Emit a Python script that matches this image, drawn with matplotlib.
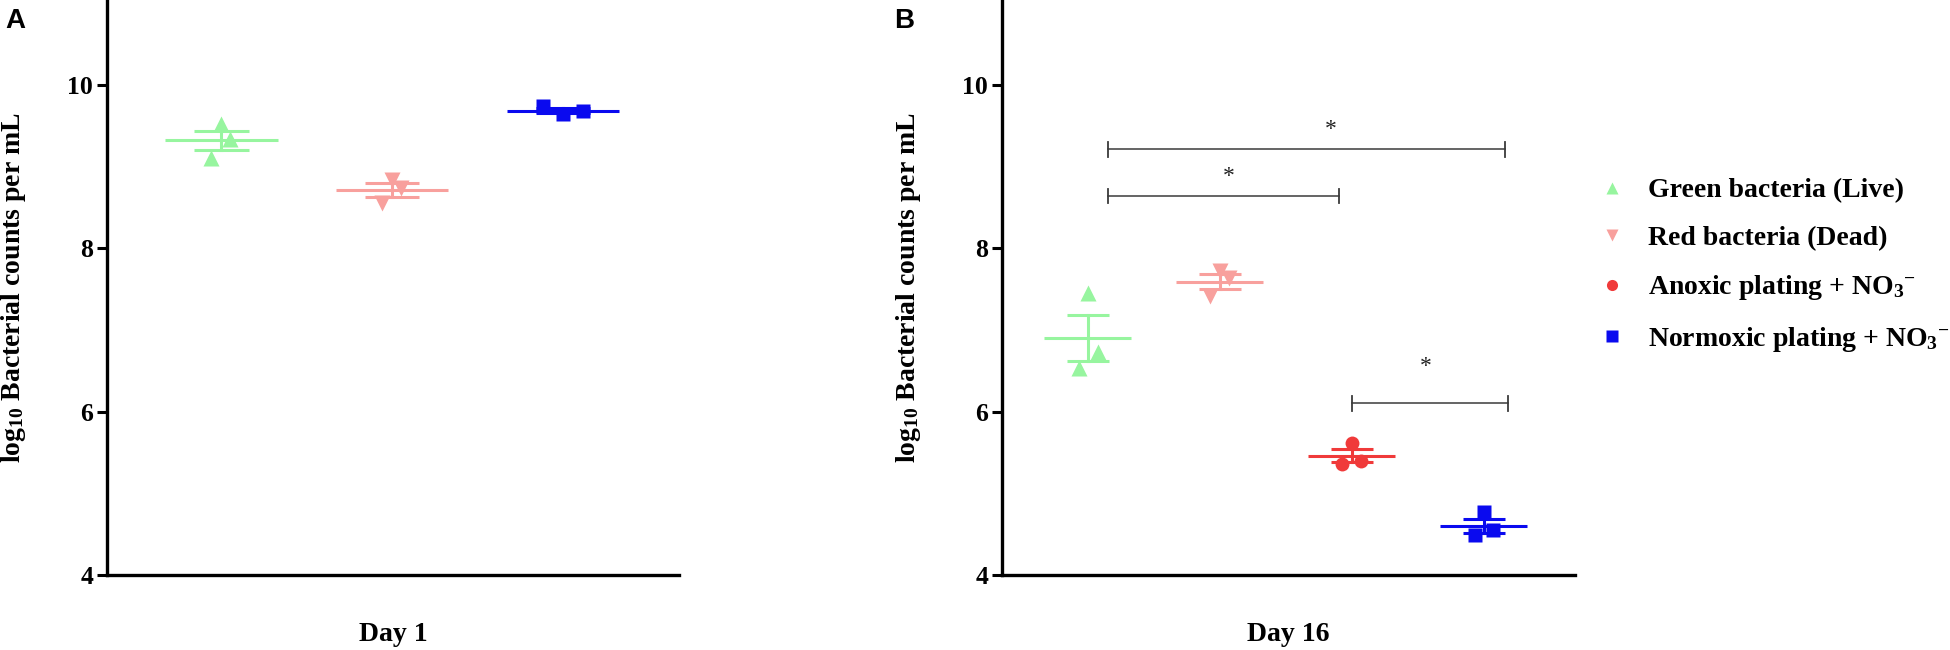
import numpy as np
import matplotlib.pyplot as plt
from matplotlib.lines import Line2D

plt.rcParams['font.family'] = 'Liberation Serif'
plt.rcParams['font.weight'] = 'bold'
plt.rcParams['mathtext.fontset'] = 'custom'
plt.rcParams['mathtext.rm'] = 'Liberation Serif:bold'
plt.rcParams['mathtext.it'] = 'Liberation Serif:bold'
plt.rcParams['mathtext.bf'] = 'Liberation Serif:bold'
plt.rcParams['mathtext.default'] = 'rm'

# data (log10 counts, three replicates per group)
day1_green = [9.52, 9.34, 9.11]
day1_red = [8.84, 8.74, 8.56]
day1_blue = [9.74, 9.64, 9.68]

day16_green = [7.45, 6.73, 6.53]
day16_red = [7.72, 7.64, 7.42]
day16_anoxic = [5.62, 5.36, 5.40]
day16_blue = [4.77, 4.55, 4.49]

labels = ['Green bacteria (Live)', 'Red bacteria (Dead)',
          'Anoxic plating + NO$_3$$^{-}$', 'Normoxic plating + NO$_3$$^{-}$']
colors = ['#97F59F', '#F8A09D', '#F03A3A', '#0A0AEF']
markers = ['^', 'v', 'o', 's']
msizes = [11, 11, 10, 10]

# significance brackets for day 16: x start, x end, y level
brackets = [(1.15, 4.16, 9.21), (1.15, 2.90, 8.64), (3.0, 4.18, 6.10)]
stars = [(2.84, 9.46), (2.07, 8.88), (3.56, 6.55)]

# small horizontal scatter of the replicate points
jit_a = [[0, 0.052, -0.058], [0, 0.05, -0.06], [-0.115, 0, 0.115]]
jit_b = [[0, 0.078, -0.069], [0, 0.072, -0.075], [0, -0.075, 0.072], [0, 0.072, -0.069]]


def group(ax, xc, vals, jit, k):
    vals = np.array(vals)
    m = vals.mean()
    sem = vals.std(ddof=1) / np.sqrt(len(vals))
    ax.plot(xc + np.array(jit), vals, ls='none', marker=markers[k], ms=msizes[k],
            color=colors[k], mec='none', zorder=2)
    c = colors[k]
    ax.plot([xc - 0.33, xc + 0.33], [m, m], color=c, lw=2.2, zorder=3, solid_capstyle='butt')
    ax.plot([xc, xc], [m - sem, m + sem], color=c, lw=2.2, zorder=3)
    ax.plot([xc - 0.16, xc + 0.16], [m + sem, m + sem], color=c, lw=2.2, zorder=3, solid_capstyle='butt')
    ax.plot([xc - 0.16, xc + 0.16], [m - sem, m - sem], color=c, lw=2.2, zorder=3, solid_capstyle='butt')


def style(ax, xlab):
    ax.spines['top'].set_visible(False)
    ax.spines['right'].set_visible(False)
    ax.spines['left'].set_linewidth(2.4)
    ax.spines['bottom'].set_linewidth(2.4)
    ax.set_ylim(4, 11.04)
    ax.set_yticks([4, 6, 8, 10])
    ax.set_xticks([])
    ax.tick_params(axis='y', length=7, width=2.2, labelsize=18.5, pad=3)
    for t in ax.get_yticklabels():
        t.set_fontweight('bold')
    ax.set_ylabel('log$_{10}$ Bacterial counts per mL', fontsize=20, fontweight='bold', labelpad=28)
    ax.set_xlabel(xlab, fontsize=20, fontweight='bold', labelpad=34)


fig = plt.figure(figsize=(19.5, 6.5), dpi=100)
axA = fig.add_axes([107 / 1950, 75 / 650, 572 / 1950, 575 / 650])
axB = fig.add_axes([1002 / 1950, 75 / 650, 573 / 1950, 575 / 650])

for i, v in enumerate([day1_green, day1_red, day1_blue]):
    kk = [0, 1, 3][i]
    group(axA, i + 1, v, jit_a[i], kk)
axA.set_xlim(0.33, 3.68)
style(axA, 'Day 1')

for i, v in enumerate([day16_green, day16_red, day16_anoxic, day16_blue]):
    group(axB, i + 1, v, jit_b[i], i)
axB.set_xlim(0.35, 4.69)
style(axB, 'Day 16')

for (x1, x2, y), (sx, sy) in zip(brackets, stars):
    axB.plot([x1, x2], [y, y], color='#3a3a3a', lw=1.1)
    axB.plot([x1, x1], [y - 0.09, y + 0.09], color='#3a3a3a', lw=1.3)
    axB.plot([x2, x2], [y - 0.09, y + 0.09], color='#3a3a3a', lw=1.3)
    axB.text(sx, sy, '*', fontsize=17, fontweight='normal', ha='center', va='center', color='#222222')

fig.text(5 / 1950, 1 - 8 / 650, 'A', family='Liberation Sans', fontsize=20, fontweight='bold', va='top')
fig.text(894 / 1950, 1 - 8 / 650, 'B', family='Liberation Sans', fontsize=20, fontweight='bold', va='top')

handles = [Line2D([], [], ls='none', marker=markers[k], ms=msizes[k] - 2, color=colors[k], mec='none')
           for k in range(4)]
fig.legend(handles, labels, loc='upper left', bbox_to_anchor=(1598 / 1950, 1 - 178 / 650),
           frameon=False, fontsize=20, handlelength=1.0, handletextpad=0.8,
           labelspacing=0.8, borderpad=0, borderaxespad=0)

fig.savefig('out.png', dpi=100)
